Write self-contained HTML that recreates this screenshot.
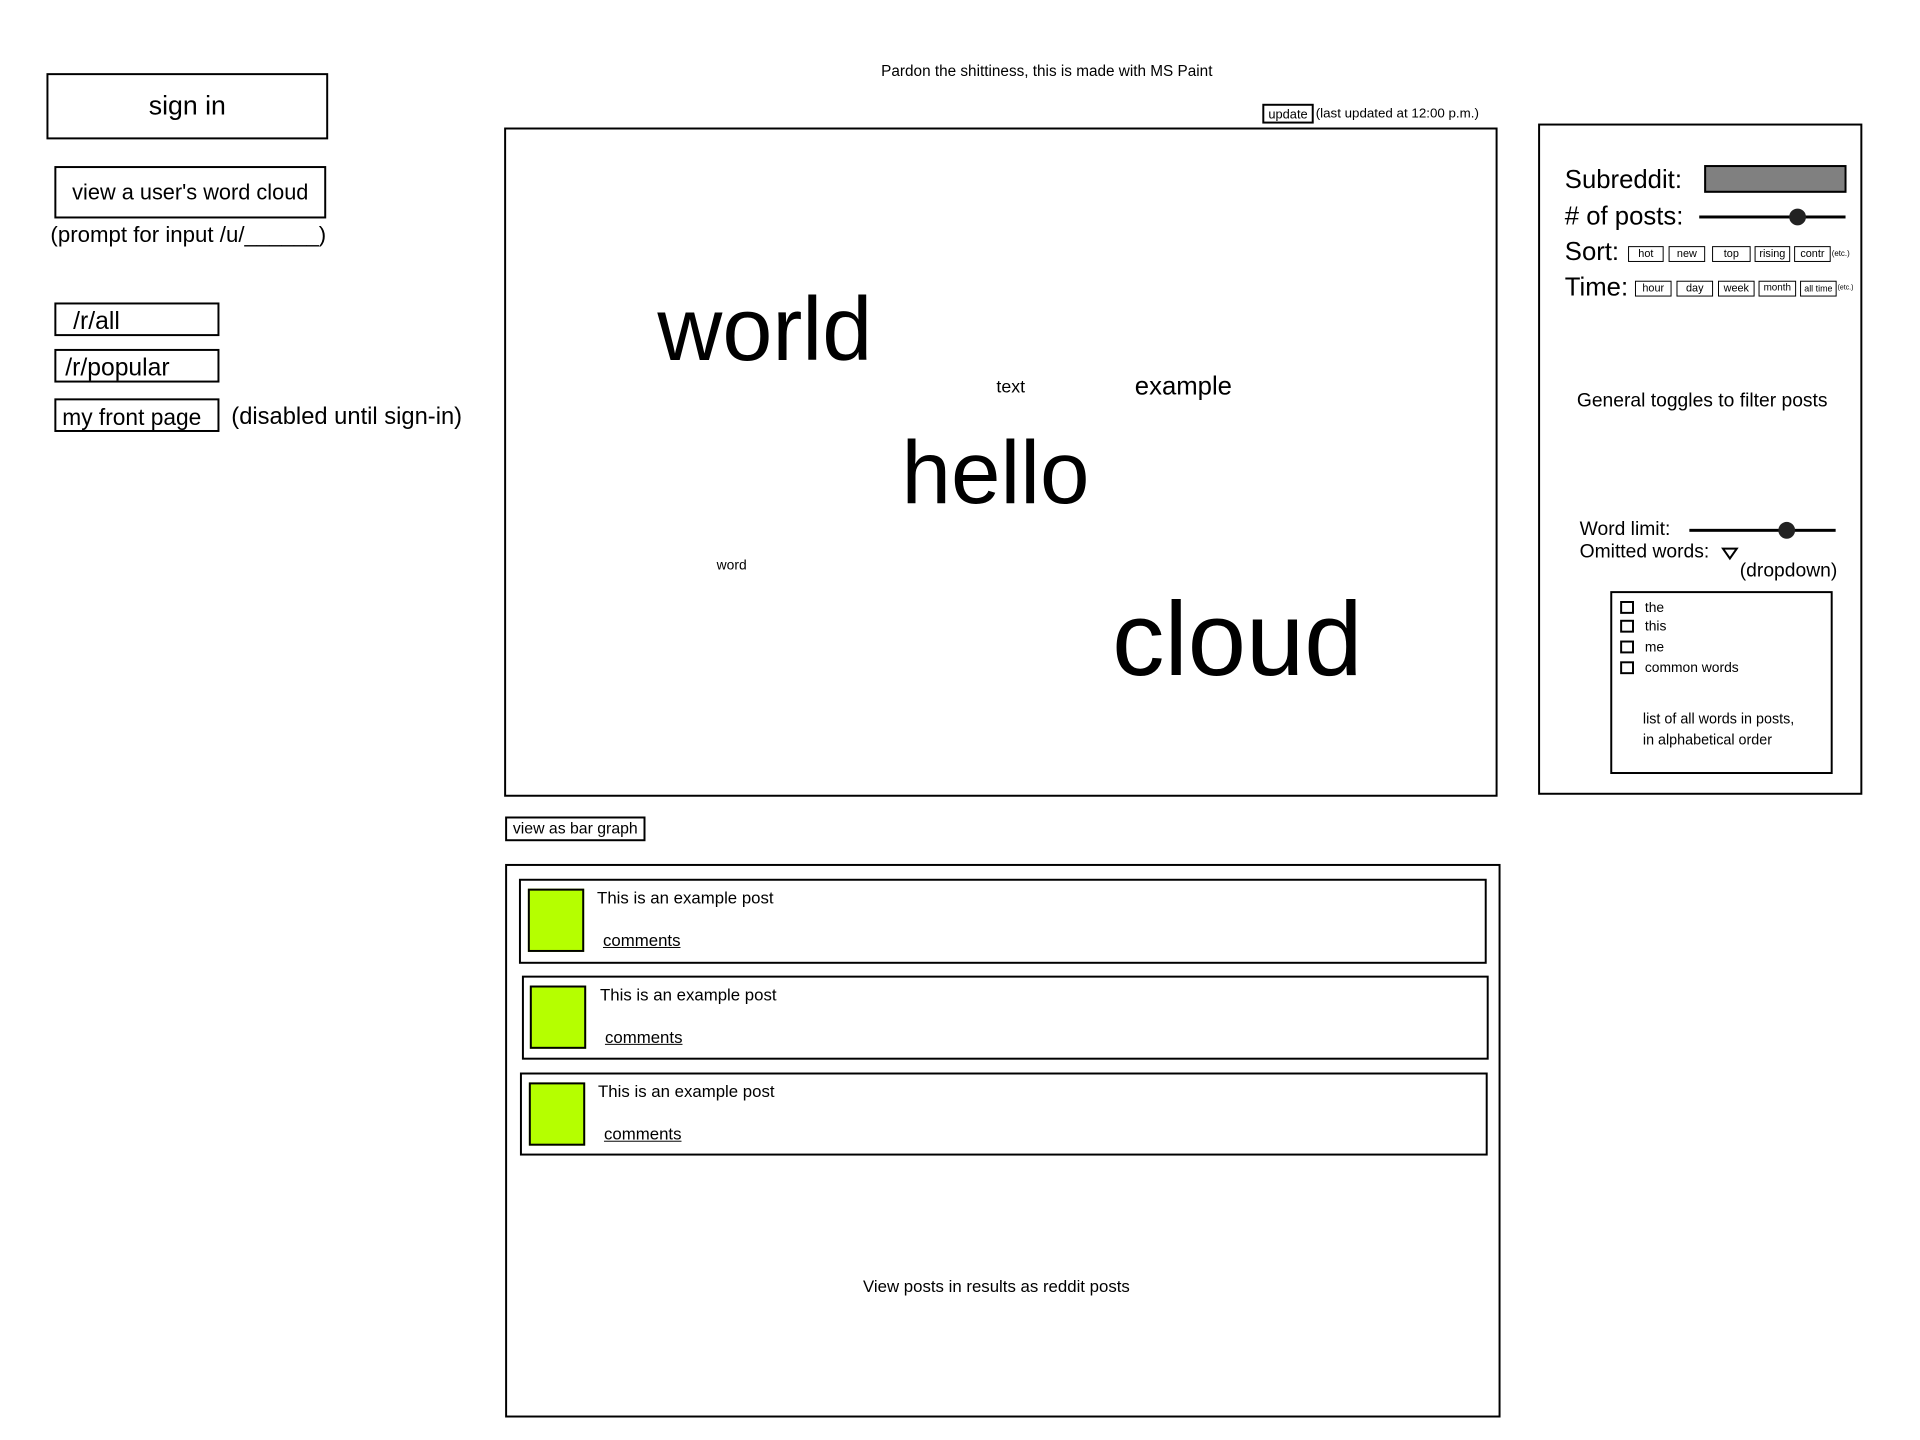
<!DOCTYPE html>
<html><head><meta charset="utf-8"><style>
body{margin:0;width:1920px;height:1440px;background:#fff;position:relative;overflow:hidden;font-family:"Liberation Sans",sans-serif;color:#000}
#w{position:absolute;left:0;top:0;width:1942px;height:1457px;transform:scale(0.9885);transform-origin:0 0}
.a{position:absolute;white-space:nowrap;line-height:1}
.b{position:absolute;border:2px solid #000;box-sizing:border-box}
.c{display:flex;align-items:center;justify-content:center}
.sb{position:absolute;border:1.5px solid #000;box-sizing:border-box;font-size:11px;line-height:1;display:flex;align-items:center;justify-content:center;height:16px}
.g{position:absolute;background:#b5ff00;border:2px solid #000;box-sizing:border-box;width:57px;height:64px}
.ck{position:absolute;width:14px;height:13px;border:2px solid #000;box-sizing:border-box}
</style></head><body><div id="w">
<div class="a" style="left:1059px;top:65px;font-size:15.5px;transform:translateX(-50%)">Pardon the shittiness, this is made with MS Paint</div>

<div class="b c" style="left:47px;top:74px;width:285px;height:67px;font-size:27px">sign in</div>
<div class="b c" style="left:55px;top:168px;width:275px;height:53px;font-size:22px">view a user's word cloud</div>
<div class="a" style="left:51px;top:227px;font-size:22.5px">(prompt for input /u/______)</div>
<div class="b" style="left:55px;top:306px;width:167px;height:34px;font-size:25px;padding:3px 0 0 17px">/r/all</div>
<div class="b" style="left:55px;top:353px;width:167px;height:34px;font-size:25px;padding:3px 0 0 9px">/r/popular</div>
<div class="b" style="left:55px;top:403px;width:167px;height:34px;font-size:23px;padding:4px 0 0 6px;white-space:nowrap;overflow:hidden">my front page</div>
<div class="a" style="left:234px;top:410px;font-size:24px">(disabled until sign-in)</div>

<div class="b c" style="left:1277px;top:105px;width:52px;height:20px;font-size:13px">update</div>
<div class="a" style="left:1331px;top:108px;font-size:13.5px">(last updated at 12:00 p.m.)</div>
<div class="b" style="left:510px;top:129px;width:1005px;height:677px"></div>
<div class="a" style="left:665px;top:288px;font-size:91px">world</div>
<div class="a" style="left:1008px;top:382px;font-size:18px">text</div>
<div class="a" style="left:1148px;top:377px;font-size:26px">example</div>
<div class="a" style="left:912px;top:434px;font-size:90px">hello</div>
<div class="a" style="left:725px;top:564px;font-size:14px">word</div>
<div class="a" style="left:1125px;top:594px;font-size:106px">cloud</div>

<div class="b c" style="left:511px;top:826px;width:142px;height:25px;font-size:16px">view as bar graph</div>

<div class="b" style="left:511px;top:874px;width:1007px;height:560px"></div>
<div class="b" style="left:525px;top:889px;width:979px;height:86px"></div>
<div class="g" style="left:534px;top:899px"></div>
<div class="a" style="left:604px;top:900px;font-size:17px">This is an example post</div>
<div class="a" style="left:610px;top:943px;font-size:17px;text-decoration:underline">comments</div>
<div class="b" style="left:528px;top:987px;width:978px;height:85px"></div>
<div class="g" style="left:536px;top:997px"></div>
<div class="a" style="left:607px;top:998px;font-size:17px">This is an example post</div>
<div class="a" style="left:612px;top:1041px;font-size:17px;text-decoration:underline">comments</div>
<div class="b" style="left:526px;top:1085px;width:979px;height:84px"></div>
<div class="g" style="left:535px;top:1095px"></div>
<div class="a" style="left:605px;top:1096px;font-size:17px">This is an example post</div>
<div class="a" style="left:611px;top:1139px;font-size:17px;text-decoration:underline">comments</div>
<div class="a" style="left:1008px;top:1293px;font-size:17px;transform:translateX(-50%)">View posts in results as reddit posts</div>

<div class="b" style="left:1556px;top:125px;width:328px;height:679px"></div>
<div class="a" style="left:1583px;top:168px;font-size:26px">Subreddit:</div>
<div class="b" style="left:1724px;top:167px;width:144px;height:28px;background:#808080"></div>
<div class="a" style="left:1583px;top:205px;font-size:26px"># of posts:</div>
<div style="position:absolute;left:1719px;top:218px;width:148px;height:3px;background:#000"></div>
<div style="position:absolute;left:1810px;top:211px;width:17px;height:17px;border-radius:50%;background:#222"></div>
<div class="a" style="left:1583px;top:241px;font-size:26px">Sort:</div>
<div class="sb" style="left:1647px;top:249px;width:36px">hot</div>
<div class="sb" style="left:1688px;top:249px;width:37px">new</div>
<div class="sb" style="left:1732px;top:249px;width:39px">top</div>
<div class="sb" style="left:1775px;top:249px;width:36px">rising</div>
<div class="sb" style="left:1815px;top:249px;width:37px">contr</div>
<div class="a" style="left:1853px;top:253px;font-size:8px">(etc.)</div>
<div class="a" style="left:1583px;top:277px;font-size:26px">Time:</div>
<div class="sb" style="left:1654px;top:284px;width:37px">hour</div>
<div class="sb" style="left:1696px;top:284px;width:37px">day</div>
<div class="sb" style="left:1738px;top:284px;width:37px">week</div>
<div class="sb" style="left:1779px;top:284px;width:38px;font-size:10px">month</div>
<div class="sb" style="left:1821px;top:284px;width:37px;font-size:9px">all time</div>
<div class="a" style="left:1859px;top:288px;font-size:7px">(etc.)</div>
<div class="a" style="left:1722px;top:396px;font-size:19.5px;transform:translateX(-50%)">General toggles to filter posts</div>
<div class="a" style="left:1598px;top:526px;font-size:19.5px">Word limit:</div>
<div style="position:absolute;left:1709px;top:535px;width:148px;height:3px;background:#000"></div>
<div style="position:absolute;left:1799px;top:528px;width:17px;height:17px;border-radius:50%;background:#222"></div>
<div class="a" style="left:1598px;top:549px;font-size:19.5px">Omitted words:</div>
<svg style="position:absolute;left:1741px;top:553px" width="18" height="14"><polygon points="2,2 16,2 9,12" fill="none" stroke="#000" stroke-width="2"/></svg>
<div class="a" style="left:1760px;top:568px;font-size:19.5px">(dropdown)</div>
<div class="b" style="left:1629px;top:598px;width:225px;height:185px"></div>
<div class="ck" style="left:1639px;top:608px"></div>
<div class="a" style="left:1664px;top:607px;font-size:14px">the</div>
<div class="ck" style="left:1639px;top:627px"></div>
<div class="a" style="left:1664px;top:626px;font-size:14px">this</div>
<div class="ck" style="left:1639px;top:648px"></div>
<div class="a" style="left:1664px;top:647px;font-size:14px">me</div>
<div class="ck" style="left:1639px;top:669px"></div>
<div class="a" style="left:1664px;top:668px;font-size:14px">common words</div>
<div class="a" style="left:1662px;top:721px;font-size:14.5px">list of all words in posts,</div>
<div class="a" style="left:1662px;top:742px;font-size:14.5px">in alphabetical order</div>
</div></body></html>
